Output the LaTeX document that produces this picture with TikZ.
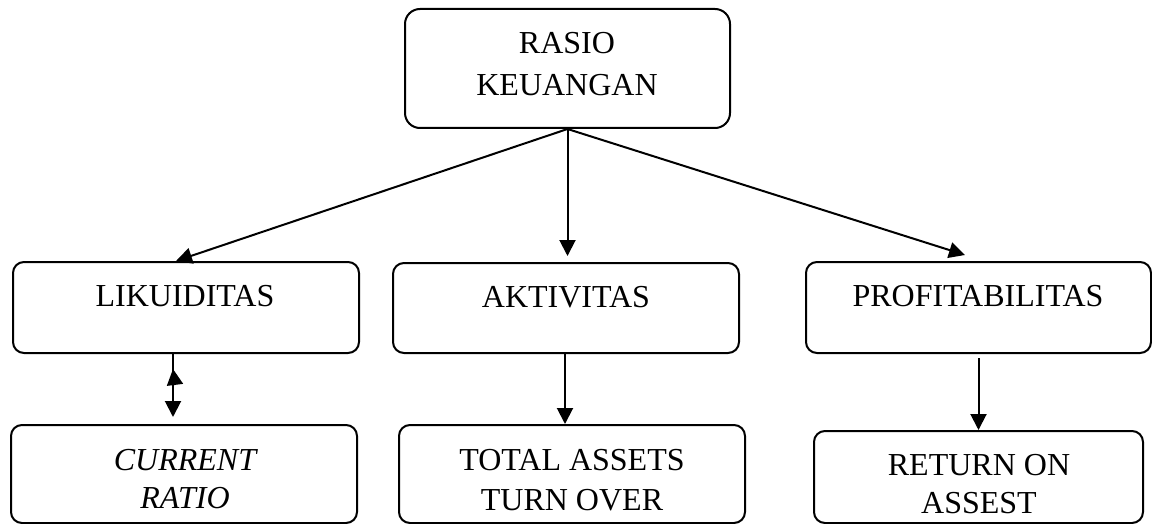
\documentclass[tikz,border=0pt]{standalone}
\usepackage{fontspec}
\setmainfont{Liberation Serif}
\usetikzlibrary{arrows.meta}
\tikzset{
  box/.style={draw, line width=2pt, rounded corners=11pt, inner sep=0pt},
  lbl/.style={anchor=base, align=center, inner sep=0pt, font=\fontsize{32}{40}\selectfont},
  conn/.style={line width=2pt, -{Triangle[length=16pt,width=16pt]}},
}
\begin{document}
\begin{tikzpicture}[x=1pt,y=-1pt]
\useasboundingbox (0,0) rectangle (1152,524);
% boxes
\node[box, rounded corners=15pt, minimum width=325pt, minimum height=119pt] (top) at (567.5,68.5) {};
\node[box, minimum width=346pt, minimum height=91pt] (liq) at (186,307.5) {};
\node[box, minimum width=346pt, minimum height=90pt] (akt) at (566,308) {};
\node[box, minimum width=345pt, minimum height=91pt] (pro) at (978.5,307.5) {};
\node[box, minimum width=346pt, minimum height=98pt] (cr) at (184,474) {};
\node[box, minimum width=346pt, minimum height=98pt] (ta) at (572,474) {};
\node[box, minimum width=329pt, minimum height=92pt] (ro) at (978.5,477) {};
% texts
\node[lbl, font=\fontsize{32}{42}\selectfont] (ttop) at (567,96) {RASIO\\KEUANGAN};
\node[lbl] (tliq) at (185,306) {LIKUIDITAS};
\node[lbl] (takt) at (566,307) {AKTIVITAS};
\node[lbl] (tpro) at (978,306) {PROFITABILITAS};
\node[lbl, font=\fontsize{32}{38}\selectfont\itshape] (tcr) at (185,508) {CURRENT\\RATIO};
\node[lbl] (tta) at (572,510) {TOTAL ASSETS\\TURN OVER};
\node[lbl, font=\fontsize{32}{38}\selectfont] (tro) at (979,513) {RETURN ON\\ASSEST};
% connectors
\draw[conn] (top.south) -- ([xshift=-10pt]liq.north);
\draw[conn, shorten >=6pt] (top.south) -- (top.south |- akt.north);
\draw[conn] (top.south) -- ([xshift=-13.5pt, yshift=6pt]pro.north);
\draw[conn, shorten <=-1pt, shorten >=7pt] ([xshift=-13pt]liq.south) -- ([xshift=-13pt]liq.south |- cr.north);
\draw[conn] ([xshift=-11pt, yshift=-31pt]liq.south) -- ([xshift=-13pt, yshift=-15pt]liq.south);
\draw[conn] ([xshift=-1pt]akt.south) -- ([xshift=-1pt]akt.south |- ta.north);
\draw[conn, shorten <=4pt] (pro.south) -- (pro.south |- ro.north);
\end{tikzpicture}
\end{document}
